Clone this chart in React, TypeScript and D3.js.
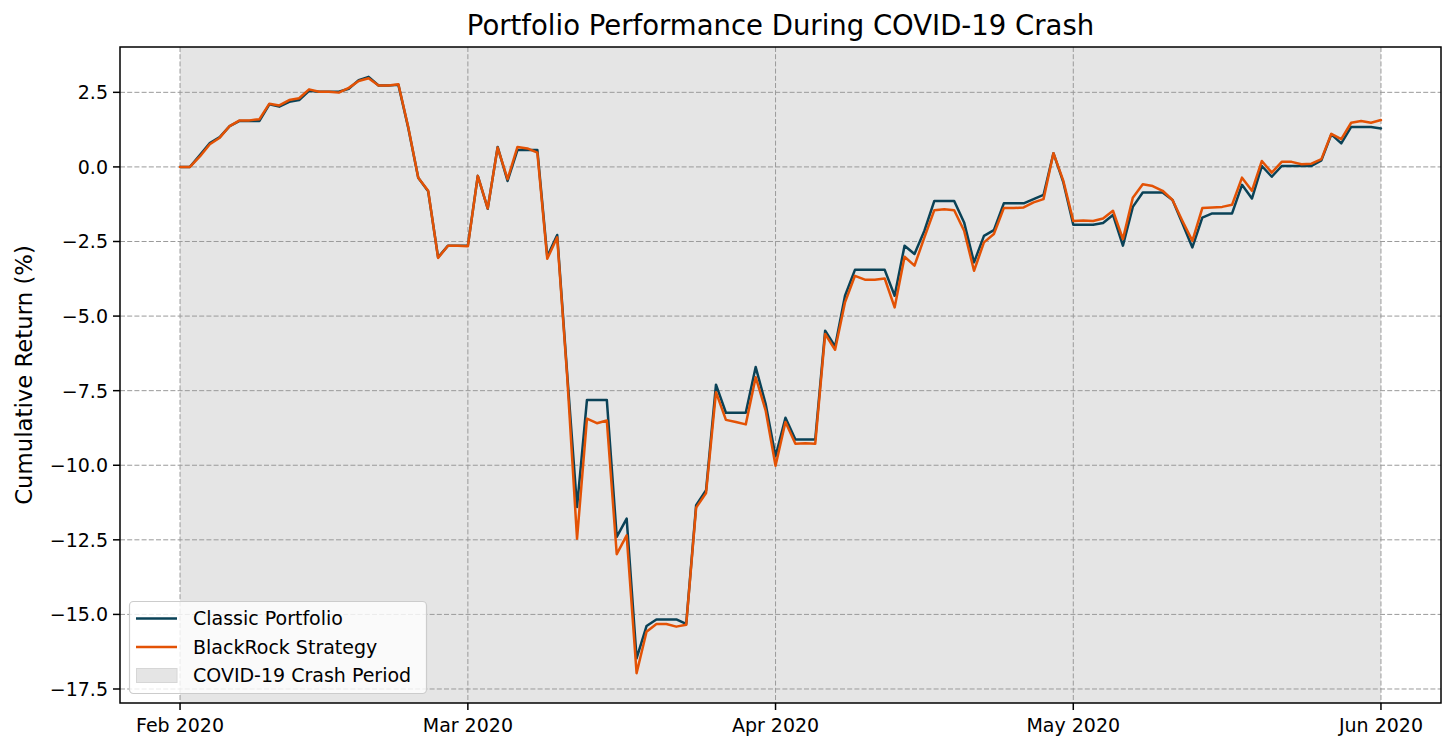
import React from "react";
import * as d3 from "d3";

// ---- Data ----
const startDate = "2020-02-01"; // daily observations from this date
const classicPortfolio = [
  0, 0, 0.40, 0.80, 1.00, 1.37, 1.54, 1.54, 1.54, 2.10,
  2.02, 2.18, 2.24, 2.55, 2.52, 2.52, 2.52, 2.62, 2.91, 3.02,
  2.73, 2.73, 2.75, 1.30, -0.36, -0.82, -3.03, -2.64, -2.64, -2.64,
  -0.30, -1.40, 0.67, -0.47, 0.57, 0.57, 0.57, -3.00, -2.28, -6.90,
  -11.40, -7.81, -7.81, -7.81, -12.40, -11.79, -16.47, -15.39, -15.17, -15.17,
  -15.17, -15.32, -11.34, -10.84, -7.30, -8.24, -8.24, -8.24, -6.71, -7.94,
  -9.70, -8.41, -9.14, -9.14, -9.14, -5.49, -6.02, -4.32, -3.45, -3.45,
  -3.45, -3.45, -4.32, -2.64, -2.92, -2.14, -1.14, -1.14, -1.14, -1.86,
  -3.20, -2.31, -2.12, -1.22, -1.22, -1.22, -1.08, -0.94, 0.46, -0.52,
  -1.94, -1.94, -1.94, -1.88, -1.61, -2.64, -1.34, -0.86, -0.86, -0.86,
  -1.11, -1.90, -2.70, -1.70, -1.56, -1.56, -1.56, -0.60, -1.06, 0.03,
  -0.33, 0.03, 0.03, 0.03, 0.03, 0.22, 1.09, 0.79, 1.34, 1.34,
  1.34, 1.29,
];
const blackRockStrategy = [
  0, 0, 0.35, 0.76, 0.98, 1.37, 1.56, 1.56, 1.60, 2.12,
  2.06, 2.24, 2.30, 2.60, 2.52, 2.52, 2.49, 2.65, 2.88, 2.97,
  2.73, 2.73, 2.77, 1.32, -0.36, -0.80, -3.05, -2.64, -2.64, -2.66,
  -0.30, -1.39, 0.65, -0.41, 0.67, 0.62, 0.48, -3.08, -2.36, -7.00,
  -12.46, -8.44, -8.59, -8.50, -12.98, -12.35, -16.97, -15.58, -15.32, -15.32,
  -15.41, -15.35, -11.42, -10.93, -7.55, -8.48, -8.55, -8.63, -7.05, -8.16,
  -10.02, -8.55, -9.28, -9.26, -9.28, -5.60, -6.13, -4.54, -3.65, -3.78,
  -3.78, -3.74, -4.71, -3.01, -3.31, -2.36, -1.45, -1.42, -1.45, -2.14,
  -3.48, -2.53, -2.25, -1.38, -1.38, -1.36, -1.19, -1.08, 0.46, -0.47,
  -1.81, -1.80, -1.81, -1.73, -1.47, -2.42, -1.03, -0.58, -0.64, -0.80,
  -1.11, -1.81, -2.48, -1.38, -1.36, -1.34, -1.27, -0.36, -0.80, 0.20,
  -0.19, 0.17, 0.17, 0.09, 0.11, 0.26, 1.11, 0.93, 1.48, 1.54,
  1.48, 1.57,
];
const crashPeriod = ["2020-02-01", "2020-06-01"];
const xTickDates = ["2020-02-01", "2020-03-01", "2020-04-01", "2020-05-01", "2020-06-01"];
const xTickLabels = ["Feb 2020", "Mar 2020", "Apr 2020", "May 2020", "Jun 2020"];
const yTicks = [2.5, 0, -2.5, -5, -7.5, -10, -12.5, -15, -17.5];
const seriesNames = ["Classic Portfolio", "BlackRock Strategy"];
const shadeName = "COVID-19 Crash Period";
const titleText = "Portfolio Performance During COVID-19 Crash";
const yLabelText = "Cumulative Return (%)";

// ---- Layout ----
const W = 1456, H = 739;
const M = { left: 120, top: 47, right: 1441, bottom: 703 };
const FONT = "'DejaVu Sans', sans-serif";
const COLORS = ["#0a4257", "#e35205"];

const parse = (s: string) => new Date(s + "T00:00:00Z");
const DAY = 86400000;

export default function App() {
  const start = parse(startDate);
  const dates = classicPortfolio.map((_, i) => new Date(start.getTime() + i * DAY));
  const first = dates[0].getTime();
  const last = dates[dates.length - 1].getTime();
  const pad = (last - first) * 0.05;
  const x = d3.scaleUtc().domain([new Date(first - pad), new Date(last + pad)]).range([M.left, M.right]);

  const allVals = [...classicPortfolio, ...blackRockStrategy];
  const lo = d3.min(allVals)!, hi = d3.max(allVals)!;
  const ypad = (hi - lo) * 0.05;
  const y = d3.scaleLinear().domain([lo - ypad, hi + ypad]).range([M.bottom, M.top]);

  const line = d3.line<number>().x((_, i) => x(dates[i])).y((v) => y(v));
  const fmt = (v: number) => v.toFixed(1).replace("-", "\u2212");

  const shadeX0 = x(parse(crashPeriod[0]));
  const shadeX1 = x(parse(crashPeriod[1]));

  const legX = 129.5, legY = 601.5, legW = 297, legH = 92;
  const rows = [618.5, 647, 675.5];

  return (
    <svg width={W} height={H} style={{ position: "absolute", left: 0, top: 0, background: "#fff" }} fontFamily={FONT}>
      <defs>
        <clipPath id="plot">
          <rect x={M.left} y={M.top} width={M.right - M.left} height={M.bottom - M.top} />
        </clipPath>
      </defs>
      <rect x={0} y={0} width={W} height={H} fill="#fff" />
      {/* shaded period */}
      <rect x={shadeX0} y={M.top} width={shadeX1 - shadeX0} height={M.bottom - M.top} fill="#e5e5e5" />
      {/* grid */}
      <g stroke="#9a9a9a" strokeWidth={1} strokeDasharray="5 2.2">
        {yTicks.map((t) => (
          <line key={"gy" + t} x1={M.left} x2={M.right} y1={y(t)} y2={y(t)} />
        ))}
        {xTickDates.map((d) => (
          <line key={"gx" + d} x1={x(parse(d))} x2={x(parse(d))} y1={M.top} y2={M.bottom} />
        ))}
      </g>
      {/* lines */}
      <g clipPath="url(#plot)" fill="none" strokeWidth={2.5} strokeLinejoin="round" strokeLinecap="round">
        <path d={line(classicPortfolio)!} stroke={COLORS[0]} />
        <path d={line(blackRockStrategy)!} stroke={COLORS[1]} />
      </g>
      {/* frame */}
      <rect x={M.left} y={M.top} width={M.right - M.left} height={M.bottom - M.top} fill="none" stroke="#000" strokeWidth={1.5} />
      {/* y ticks */}
      {yTicks.map((t) => (
        <g key={"yt" + t}>
          <line x1={M.left - 7} x2={M.left} y1={y(t)} y2={y(t)} stroke="#000" strokeWidth={1.5} />
          <text x={M.left - 12} y={y(t)} dy="0.36em" textAnchor="end" fontSize={19} fill="#000">{fmt(t)}</text>
        </g>
      ))}
      {/* x ticks */}
      {xTickDates.map((d, i) => (
        <g key={"xt" + d}>
          <line x1={x(parse(d))} x2={x(parse(d))} y1={M.bottom} y2={M.bottom + 7} stroke="#000" strokeWidth={1.5} />
          <text x={x(parse(d))} y={732} textAnchor="middle" fontSize={19} fill="#000">{xTickLabels[i]}</text>
        </g>
      ))}
      {/* y label */}
      <text transform={`translate(32, ${(M.top + M.bottom) / 2}) rotate(-90)`} textAnchor="middle" fontSize={22.8} fill="#000">{yLabelText}</text>
      {/* title */}
      <text x={(M.left + M.right) / 2} y={35} textAnchor="middle" fontSize={27.5} fill="#000">{titleText}</text>
      {/* legend */}
      <g>
        <rect x={legX} y={legY} width={legW} height={legH} rx={4} fill="#fff" fillOpacity={0.8} stroke="#cccccc" strokeWidth={1.2} />
        {seriesNames.map((name, i) => (
          <g key={name}>
            <line x1={136} x2={177} y1={rows[i]} y2={rows[i]} stroke={COLORS[i]} strokeWidth={2.5} />
            <text x={193} y={rows[i]} dy="0.36em" fontSize={19} fill="#000">{name}</text>
          </g>
        ))}
        <rect x={136.5} y={rows[2] - 7} width={40.5} height={14} fill="#e5e5e5" stroke="#d6d6d6" strokeWidth={1} />
        <text x={193} y={rows[2]} dy="0.36em" fontSize={19} fill="#000">{shadeName}</text>
      </g>
    </svg>
  );
}
